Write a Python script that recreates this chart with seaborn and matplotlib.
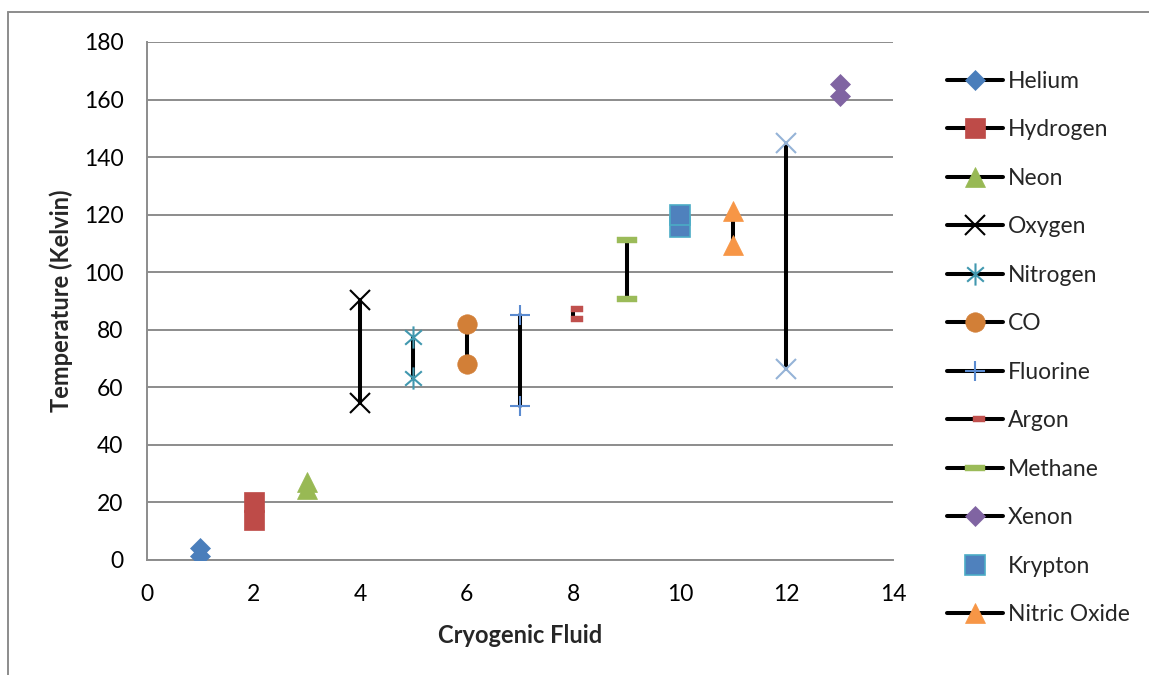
import numpy as np
import pandas as pd
import matplotlib
matplotlib.use("Agg")
import matplotlib.pyplot as plt
from matplotlib.path import Path
from matplotlib.lines import Line2D
import seaborn as sns

# Melting / boiling temperatures (Kelvin) for each cryogenic fluid
fluids = ["Helium", "Hydrogen", "Neon", "Oxygen", "Nitrogen", "CO", "Fluorine",
          "Argon", "Methane", "Xenon", "Krypton", "Nitric Oxide", "Other"]
positions = [1, 2, 3, 4, 5, 6, 7, 8, 9, 13, 10, 11, 12]
low_temps = [1.4, 14.0, 24.6, 54.4, 63.2, 68.0, 53.5, 83.8, 90.7, 161.4, 115.8, 109.5, 66.4]
high_temps = [4.2, 20.3, 27.1, 90.2, 77.4, 82.0, 85.0, 87.3, 111.2, 165.4, 119.9, 121.3, 144.8]
in_legend = [True] * 12 + [False]
connected = [True] * 10 + [False, True, True]

x_ticks = list(range(0, 15, 2))
y_ticks = list(range(0, 181, 20))

# Custom marker shapes
star_path = Path([(0, -1), (0, 1), (-0.75, -0.65), (0.75, 0.65), (-0.75, 0.65), (0.75, -0.65)],
                 [Path.MOVETO, Path.LINETO, Path.MOVETO, Path.LINETO, Path.MOVETO, Path.LINETO])
argon_dash = Path([(-1.5, -2.5), (9.5, -2.5), (9.5, 2.5), (-1.5, 2.5), (-1.5, -2.5)],
                  [Path.MOVETO, Path.LINETO, Path.LINETO, Path.LINETO, Path.CLOSEPOLY])
methane_dash = Path([(-10, -2.8), (10, -2.8), (10, 2.8), (-10, 2.8), (-10, -2.8)],
                    [Path.MOVETO, Path.LINETO, Path.LINETO, Path.LINETO, Path.CLOSEPOLY])

styles = {
    "Helium":       dict(marker="D", ms=10.2, mfc="#4A7EBB", mec="#4A7EBB", mew=0.5),
    "Hydrogen":     dict(marker="s", ms=14, mfc="#BE4B48", mec="#BE4B48", mew=0.5),
    "Neon":         dict(marker="^", ms=14, mfc="#98B954", mec="#98B954", mew=0.5),
    "Oxygen":       dict(marker="x", ms=14, mfc="black", mec="black", mew=1.5),
    "Nitrogen":     dict(marker=star_path, ms=16, mfc="none", mec="#4198AF", mew=1.5),
    "CO":           dict(marker="o", ms=14, mfc="#D27F37", mec="#D27F37", mew=0.5),
    "Fluorine":     dict(marker="+", ms=14, mfc="#4F81BD", mec="#5B8BD0", mew=1.5),
    "Argon":        dict(marker=argon_dash, ms=13.7, mfc="#C0504D", mec="#C0504D", mew=0.3),
    "Methane":      dict(marker=methane_dash, ms=14.4, mfc="#9BBB59", mec="#9BBB59", mew=0.3),
    "Xenon":        dict(marker="D", ms=10.2, mfc="#8064A2", mec="#8064A2", mew=0.5),
    "Krypton":      dict(marker="s", ms=14, mfc="#4F81BD", mec="#4BACC6", mew=1.2),
    "Nitric Oxide": dict(marker="^", ms=14, mfc="#F79646", mec="#F79646", mew=0.5),
    "Other":        dict(marker="x", ms=14, mfc="#95B3D7", mec="#95B3D7", mew=1.5),
}

sns.set_theme(style="white")
plt.rcParams["font.family"] = ["Lato", "DejaVu Sans"]

fig = plt.figure(figsize=(11.49, 6.75), dpi=100)
ax = fig.add_axes([147 / 1149, 1 - 560 / 675, (893 - 147) / 1149, (560 - 42) / 675])

handles = []
labels = []
for name, xpos, lo, hi, leg, conn in zip(fluids, positions, low_temps, high_temps,
                                         in_legend, connected):
    df = pd.DataFrame({"fluid": [xpos, xpos], "temp": [lo, hi]})
    st = styles[name]
    line_kw = dict(color="black", linewidth=2.9) if conn else dict(linestyle="none")
    sns.lineplot(data=df, x="fluid", y="temp", estimator=None, sort=False, ax=ax,
                 marker=st["marker"], markersize=st["ms"], markerfacecolor=st["mfc"],
                 markeredgecolor=st["mec"], markeredgewidth=st["mew"], zorder=3,
                 **line_kw)
    if leg:
        handles.append(Line2D([], [], marker=st["marker"], markersize=st["ms"],
                              markerfacecolor=st["mfc"], markeredgecolor=st["mec"],
                              markeredgewidth=st["mew"], **line_kw))
        labels.append(name)

ax.set_xlim(0, 14)
ax.set_ylim(0, 180)
ax.set_xticks(x_ticks)
ax.set_yticks(y_ticks)
ax.set_xticklabels([str(v) for v in x_ticks])
ax.set_yticklabels([str(v) for v in y_ticks])
ax.yaxis.grid(True, color="#8C8C8C", linewidth=1.4)
ax.xaxis.grid(False)
ax.set_axisbelow(True)
for side in ["top", "right"]:
    ax.spines[side].set_visible(False)
for side in ["left", "bottom"]:
    ax.spines[side].set_color("#8C8C8C")
    ax.spines[side].set_linewidth(1.4)
ax.tick_params(axis="both", length=0, labelsize=16.5, colors="black", pad=17)
ax.set_xlabel("Cryogenic Fluid", fontsize=17, fontweight="bold", labelpad=14)
ax.set_ylabel("Temperature (Kelvin)", fontsize=17, fontweight="bold", labelpad=8)

fig.legend(handles, labels, loc="center left", bbox_to_anchor=(947 / 1149, 1 - 348 / 675),
           bbox_transform=fig.transFigure, frameon=False, fontsize=16.5,
           handlelength=2.45, handletextpad=0.22, labelspacing=1.2,
           borderpad=0, borderaxespad=0)

# Chart area border (top and left edges)
fig.add_artist(Line2D([8 / 1149, 8 / 1149], [0, 1 - 12 / 675], transform=fig.transFigure,
                      color="#8C8C8C", linewidth=1.4))
fig.add_artist(Line2D([8 / 1149, 1], [1 - 12 / 675, 1 - 12 / 675], transform=fig.transFigure,
                      color="#8C8C8C", linewidth=1.4))

fig.savefig("out.png", dpi=100)
